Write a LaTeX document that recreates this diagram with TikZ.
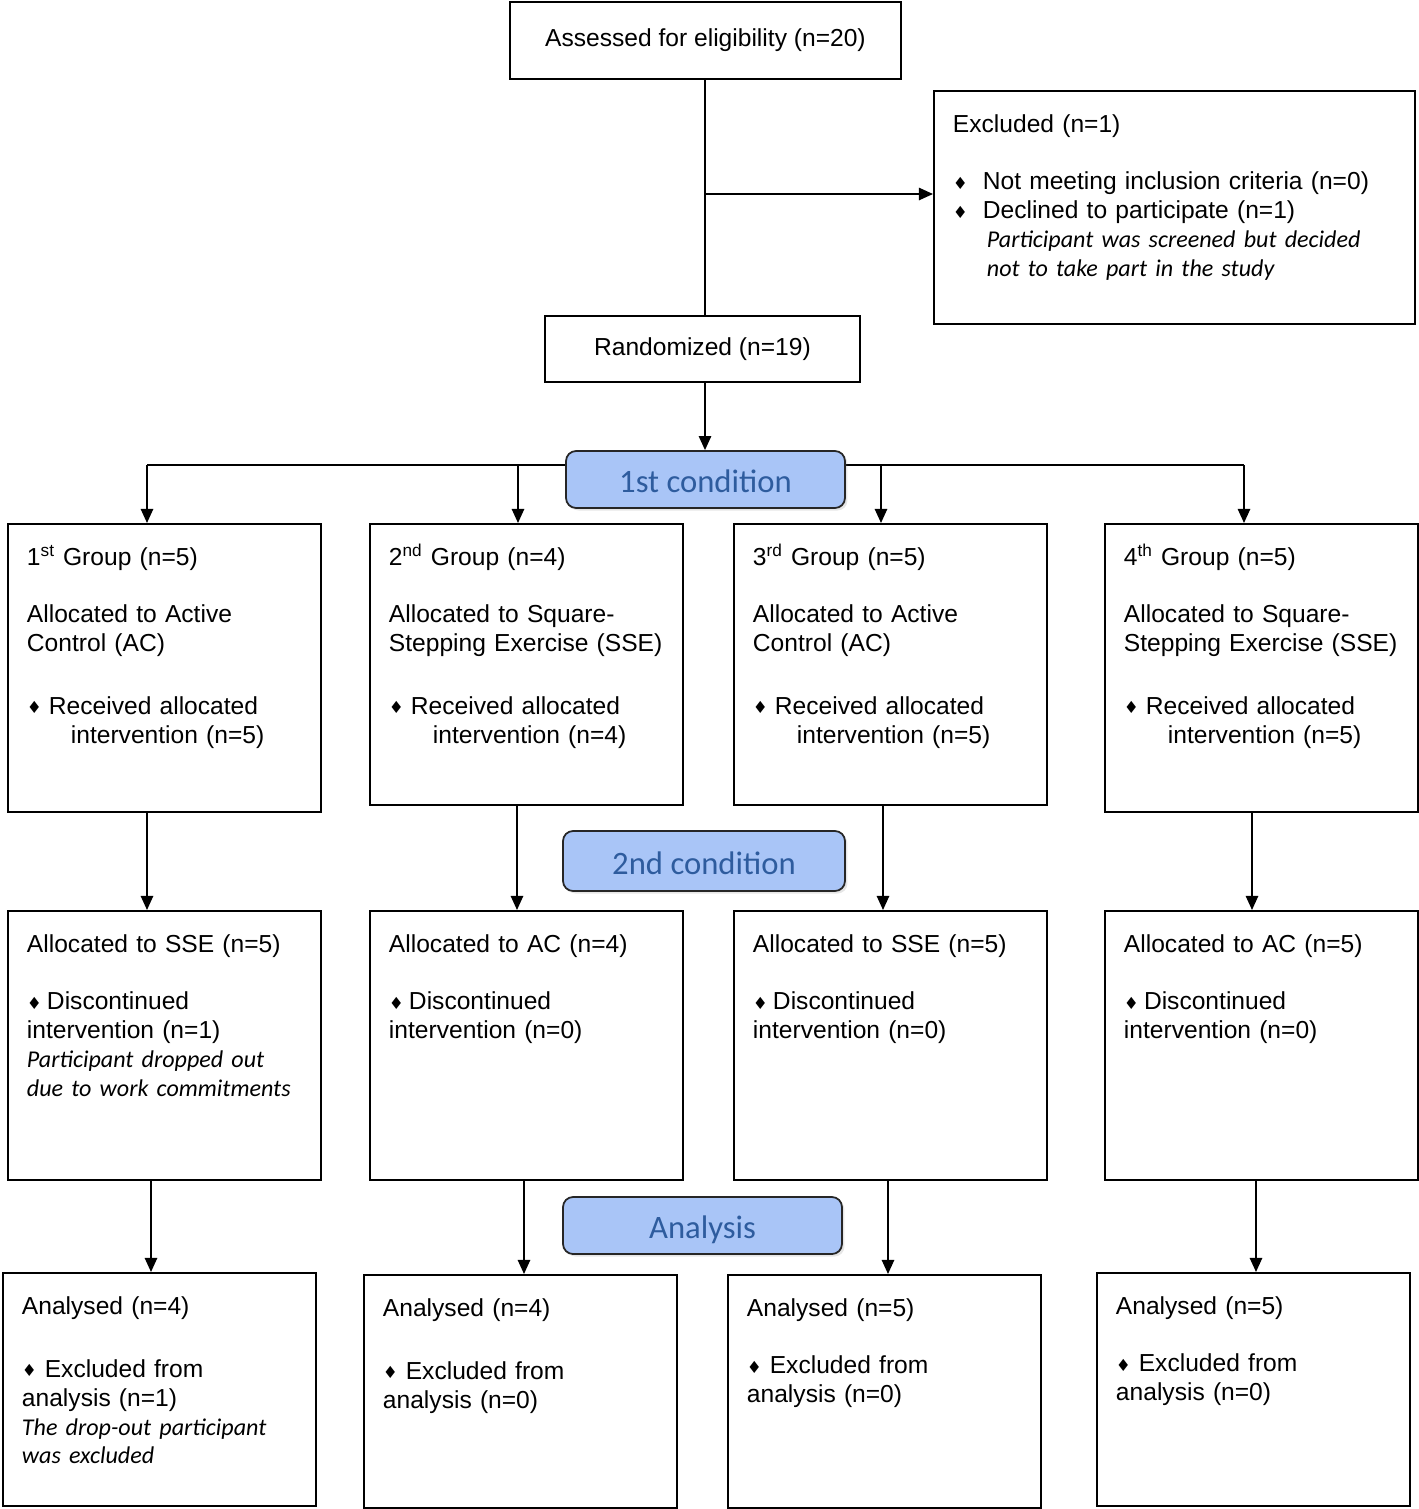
\documentclass[tikz,border=0pt]{standalone}
\usepackage{fontspec}
\setmainfont{Liberation Sans}
\newfontfamily\calfont{Carlito}
\newfontfamily\symfont{DejaVu Sans}
\usetikzlibrary{arrows.meta,shadows}

\definecolor{phasefill}{RGB}{169,197,247}
\definecolor{phasetext}{RGB}{46,92,158}

\newcommand{\dmd}[1][12.5pt]{\makebox[#1][l]{\raisebox{0.3pt}{\symfont\fontsize{9.5}{9.5}\selectfont ♦}}}
\newcommand{\whynote}[1]{{\calfont\itshape\fontsize{13.7}{16.44}\selectfont #1}}

\begin{document}
\begin{tikzpicture}[x=0.02cm, y=-0.02cm,
    plain/.style={draw, line width=1.1pt, anchor=north west, font=\fontsize{14}{16.44}\selectfont},
    box/.style={draw, line width=1.1pt, anchor=north west, inner xsep=0.38cm, inner ysep=0pt,
        text width=5.5cm, text height=0.84cm, align=left, font=\fontsize{14}{16.44}\selectfont},
    phase/.style={draw=black!85, line width=1pt, rounded corners=0.2cm, fill=phasefill,
        text=phasetext, font=\calfont\fontsize{18.6}{20}\selectfont, text height=15pt, text depth=0pt,
        drop shadow={opacity=0.2, shadow xshift=0.05cm, shadow yshift=-0.05cm}},
    line/.style={line width=1pt},
    arr/.style={line width=1pt, -{Triangle[length=8pt,width=7pt]}}]
    \useasboundingbox (0,0) rectangle (1418,1509);

    % Enrolment
    \node[plain, minimum width=7.82cm, minimum height=1.54cm] (assess) at (509,1) {Assessed for eligibility (n=20)};
    \node[box, text width=8.86cm, text depth=3.82cm] (excl) at (933,90) {Excluded (n=1)\\[16pt]
        \dmd[17pt]Not meeting inclusion criteria (n=0)\\
        \dmd[17pt]Declined to participate (n=1)\\
        \hspace*{19.3pt}\whynote{Participant was screened but decided}\\
        \hspace*{19.3pt}\whynote{not to take part in the study}};
    \node[plain, minimum width=6.3cm, minimum height=1.32cm] (rand) at (544,315) {Randomized (n=19)};

    % Trunk and branch to the excluded box
    \coordinate (split) at (705,194);
    \draw[line] (assess.south -| split) -- (rand.north -| split);
    \draw[arr] (split) -- (split -| excl.west);

    % Columns of the connectors
    \coordinate (d1) at (147,465);
    \coordinate (d2) at (518,465);
    \coordinate (d3) at (881,465);
    \coordinate (d4) at (1244,465);
    \coordinate (m1) at (147,0);
    \coordinate (m2) at (517,0);
    \coordinate (m3) at (883,0);
    \coordinate (m4) at (1252,0);
    \coordinate (n1) at (151,0);
    \coordinate (n2) at (524,0);
    \coordinate (n3) at (888,0);
    \coordinate (n4) at (1256,0);

    % First condition
    \draw[line] (d1) -- (d4);
    \node[phase, minimum width=5.58cm, minimum height=1.14cm] (cond1) at (705.5,479.5) {1st condition};
    \draw[arr] (rand.south -| split) -- (cond1.north -| split);

    \node[box, text depth=4.92cm] (g1) at (7,523) {1\textsuperscript{st} Group (n=5)\\[16pt]
        Allocated to Active\\ Control (AC)\\[19pt]
        \dmd Received allocated\\ \hspace*{25pt}intervention (n=5)};
    \node[box, text depth=4.78cm] (g2) at (369,523) {2\textsuperscript{nd} Group (n=4)\\[16pt]
        Allocated to Square-\\ Stepping Exercise (SSE)\\[19pt]
        \dmd Received allocated\\ \hspace*{25pt}intervention (n=4)};
    \node[box, text depth=4.78cm] (g3) at (733,523) {3\textsuperscript{rd} Group (n=5)\\[16pt]
        Allocated to Active\\ Control (AC)\\[19pt]
        \dmd Received allocated\\ \hspace*{25pt}intervention (n=5)};
    \node[box, text depth=4.92cm] (g4) at (1104,523) {4\textsuperscript{th} Group (n=5)\\[16pt]
        Allocated to Square-\\ Stepping Exercise (SSE)\\[19pt]
        \dmd Received allocated\\ \hspace*{25pt}intervention (n=5)};

    \draw[arr] (d1) -- (d1 |- g1.north);
    \draw[arr] (d2) -- (d2 |- g2.north);
    \draw[arr] (d3) -- (d3 |- g3.north);
    \draw[arr] (d4) -- (d4 |- g4.north);

    % Second condition
    \node[phase, minimum width=5.64cm, minimum height=1.2cm] (cond2) at (704,861) {2nd condition};

    \node[box, text depth=4.54cm] (s1) at (7,910) {Allocated to SSE (n=5)\\[16pt]
        \dmd[11.4pt]Discontinued\\ intervention (n=1)\\
        \whynote{Participant dropped out}\\ \whynote{due to work commitments}};
    \node[box, text depth=4.54cm] (s2) at (369,910) {Allocated to AC (n=4)\\[16pt]
        \dmd[11.4pt]Discontinued\\ intervention (n=0)};
    \node[box, text depth=4.54cm] (s3) at (733,910) {Allocated to SSE (n=5)\\[16pt]
        \dmd[11.4pt]Discontinued\\ intervention (n=0)};
    \node[box, text depth=4.54cm] (s4) at (1104,910) {Allocated to AC (n=5)\\[16pt]
        \dmd[11.4pt]Discontinued\\ intervention (n=0)};

    \draw[arr] (m1 |- g1.south) -- (m1 |- s1.north);
    \draw[arr] (m2 |- g2.south) -- (m2 |- s2.north);
    \draw[arr] (m3 |- g3.south) -- (m3 |- s3.north);
    \draw[arr] (m4 |- g4.south) -- (m4 |- s4.north);

    % Analysis
    \node[phase, minimum width=5.58cm, minimum height=1.14cm] (anal) at (702.5,1225.5) {Analysis};

    \node[box, text depth=3.82cm] (a1) at (2,1272) {Analysed (n=4)\\[19pt]
        \dmd[13pt]Excluded from\\ analysis (n=1)\\
        \whynote{The drop-out participant}\\ \whynote{was excluded}};
    \node[box, text depth=3.82cm] (a2) at (363,1274) {Analysed (n=4)\\[19pt]
        \dmd[13pt]Excluded from\\ analysis (n=0)};
    \node[box, text depth=3.82cm] (a3) at (727,1274) {Analysed (n=5)\\[16pt]
        \dmd[13pt]Excluded from\\ analysis (n=0)};
    \node[box, text depth=3.82cm] (a4) at (1096,1272) {Analysed (n=5)\\[16pt]
        \dmd[13pt]Excluded from\\ analysis (n=0)};

    \draw[arr] (n1 |- s1.south) -- (n1 |- a1.north);
    \draw[arr] (n2 |- s2.south) -- (n2 |- a2.north);
    \draw[arr] (n3 |- s3.south) -- (n3 |- a3.north);
    \draw[arr] (n4 |- s4.south) -- (n4 |- a4.north);
\end{tikzpicture}
\end{document}
